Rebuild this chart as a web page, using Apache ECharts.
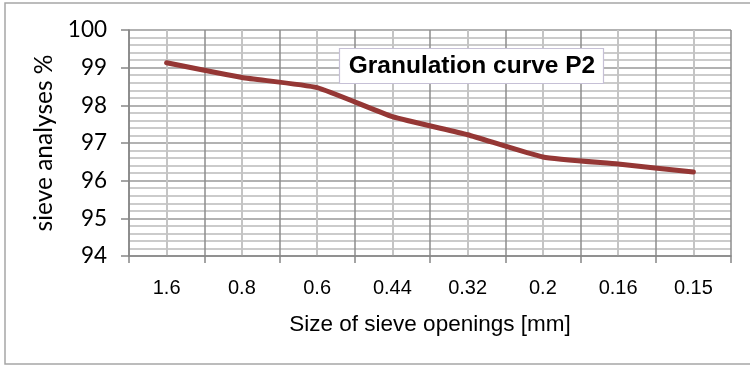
<!DOCTYPE html>
<html>
<head>
<meta charset="utf-8">
<script src="https://cdn.jsdelivr.net/npm/echarts@6/dist/echarts.min.js"></script>
<style>html,body{margin:0;padding:0;background:#fff}#c{width:750px;height:366px}</style>
</head>
<body>
<div id="c"></div>
<script>
var categories = ['1.6', '0.8', '0.6', '0.44', '0.32', '0.2', '0.16', '0.15'];
var passing = [99.13, 98.74, 98.47, 97.70, 97.22, 96.63, 96.44, 96.23];
var yTicks = [94, 95, 96, 97, 98, 99, 100];
var titleText = 'Granulation curve P2';
var xName = 'Size of sieve openings [mm]';
var yName = 'sieve analyses %';

var chart = echarts.init(document.getElementById('c'), null, {renderer: 'canvas'});
chart.setOption({
  animation: false,
  backgroundColor: '#ffffff',
  title: {
    text: titleText,
    left: 472, top: 53, textAlign: 'center', padding: 0,
    textStyle: {fontFamily: 'Liberation Sans', fontWeight: 'bold', fontSize: 24.5, color: '#000', lineHeight: 26}
  },
  graphic: [
    {type: 'rect', shape: {x: 5, y: 3, width: 800, height: 361}, style: {fill: 'none', stroke: '#a6a6a6', lineWidth: 1.5}, z: -1},
    {type: 'rect', shape: {x: 339.5, y: 48.5, width: 264, height: 35}, style: {fill: '#ffffff', stroke: '#c6c0d6', lineWidth: 1.2}, z: 5}
  ],
  grid: {left: 129, top: 30, right: 19, bottom: 110, containLabel: false},
  xAxis: [{
    type: 'category', data: categories, boundaryGap: true,
    name: xName, nameLocation: 'middle', nameGap: 57,
    nameTextStyle: {fontFamily: 'Liberation Sans', fontSize: 22.5, color: '#000'},
    axisLine: {show: true, lineStyle: {color: '#868686', width: 1.5}},
    axisTick: {show: true, length: 7, lineStyle: {color: '#868686', width: 1.5}},
    axisLabel: {margin: 22, fontFamily: 'Liberation Sans', fontSize: 20, color: '#000'},
    splitLine: {show: true, lineStyle: {color: '#8c8c8c', width: 1.5}}
  }, {
    type: 'value', min: 0, max: 8, interval: 1, show: true,
    axisLine: {show: false}, axisTick: {show: false}, axisLabel: {show: false},
    splitLine: {show: false},
    minorTick: {show: false, splitNumber: 2},
    minorSplitLine: {show: true, lineStyle: {color: '#c4c4c4', width: 2}}
  }],
  yAxis: {
    type: 'value', min: yTicks[0], max: yTicks[yTicks.length - 1], interval: 1,
    name: yName, nameLocation: 'middle', nameGap: 70, nameRotate: 90,
    nameTextStyle: {fontFamily: 'Lato', fontSize: 24.5, color: '#000'},
    axisLine: {show: true, lineStyle: {color: '#868686', width: 1.5}},
    axisTick: {show: true, length: 8, lineStyle: {color: '#868686', width: 1.5}},
    axisLabel: {margin: 22, fontFamily: 'Lato', fontSize: 22.5, color: '#000'},
    splitLine: {show: true, lineStyle: {color: '#999999', width: 1.5}},
    minorTick: {show: false, splitNumber: 5},
    minorSplitLine: {show: true, lineStyle: {color: '#cbcbcb', width: 2}}
  },
  series: [{
    type: 'line', data: passing, xAxisIndex: 0,
    smooth: 0.15, symbol: 'none',
    lineStyle: {color: '#953735', width: 5, cap: 'round'},
    z: 3
  }]
});
</script>
</body>
</html>
